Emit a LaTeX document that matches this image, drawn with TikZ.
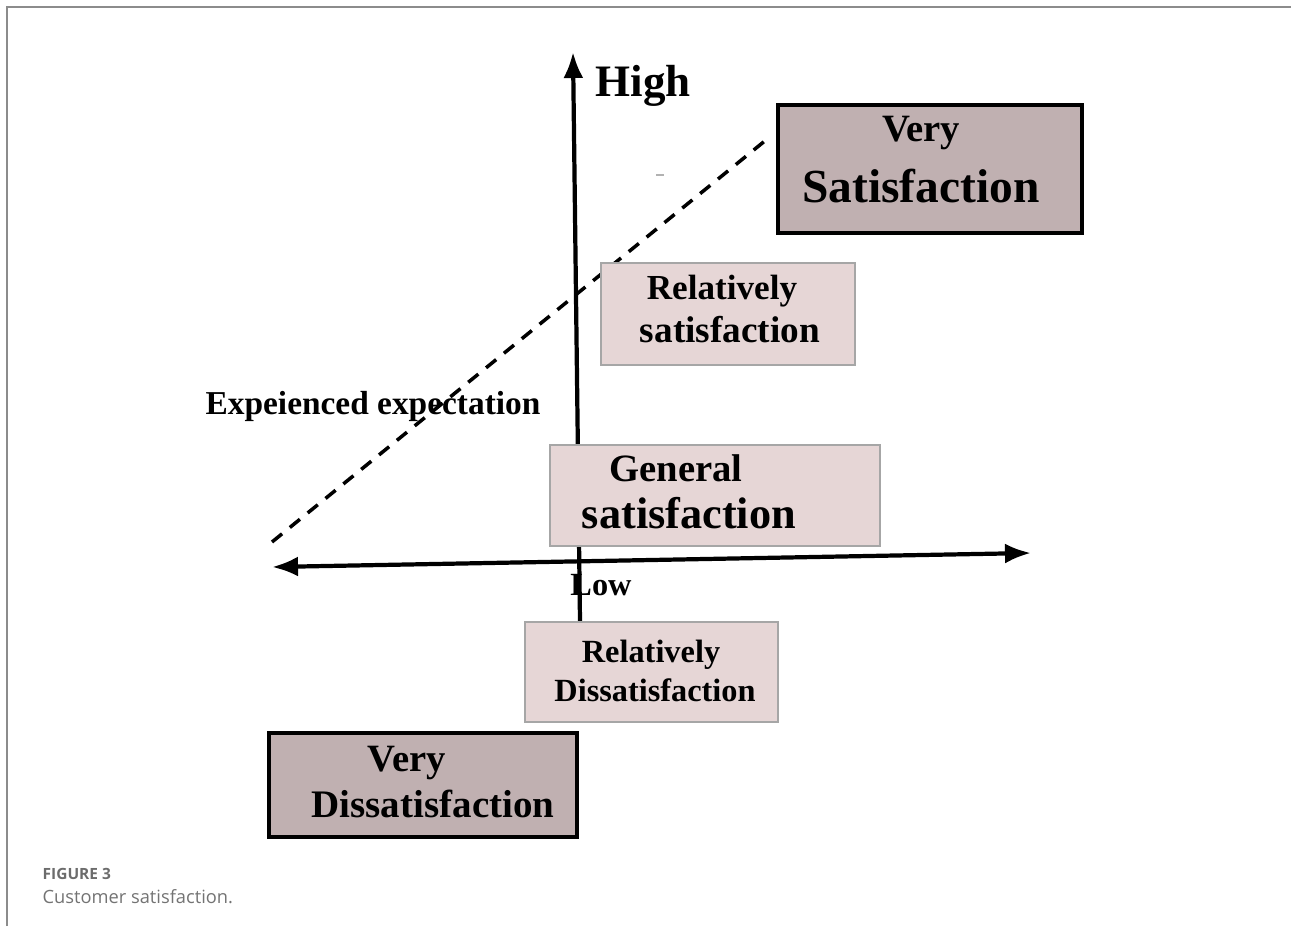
\documentclass[tikz,border=0pt]{standalone}
\usepackage{fontspec}
\setmainfont{Liberation Serif}
\newfontfamily\captionfont{Open Sans}
\usetikzlibrary{arrows.meta}

\begin{document}
\begin{tikzpicture}
	
	% Define the box and word styles
	\tikzset{
		soft box/.style 2 args={draw=gray!70, fill=boxlight, line width=0.5pt,
			minimum width=#1cm, minimum height=#2cm, inner sep=0pt},
		hard box/.style 2 args={draw=black, fill=boxdark, line width=1.3pt,
			minimum width=#1cm, minimum height=#2cm, inner sep=0pt},
		word/.style={font=\bfseries\fontsize{#1}{#1}\selectfont, inner sep=0pt},
		axis/.style={line width=1.2pt, draw=black}
	}
	\definecolor{boxlight}{RGB}{230,214,214}
	\definecolor{boxdark}{RGB}{192,176,177}
	\definecolor{framegray}{RGB}{140,140,140}
	
	\useasboundingbox (0,0) rectangle (12.91,9.26);
	
	% Frame of the figure
	\draw[framegray, line width=0.6pt] (0.07,0) -- (0.07,9.19) -- (12.91,9.19);
	
	% Axes
	\coordinate (ybot) at (5.80,3.04);
	\coordinate (ytop) at (5.73,8.74);
	\coordinate (xleft) at (2.72,3.59);
	\coordinate (xright) at (10.31,3.73);
	\draw[axis, -{Latex[length=2.6mm,width=2mm]}] (ybot) -- (ytop);
	\draw[axis, {Latex[length=2.6mm,width=2mm]}-{Latex[length=2.6mm,width=2mm]}] (xleft) -- (xright);
	
	% Expectation line (dashed)
	\coordinate (dstart) at (2.72,3.84);
	\coordinate (dend) at (7.66,7.86);
	\draw[line width=1pt, dash pattern=on 1.3mm off 1mm] (dstart) -- (dend);
	\draw[gray!60, line width=0.5pt] (6.56,7.51) -- (6.64,7.51);
	
	% Boxes
	\node[hard box={3.04}{1.28}] (verysat) at (9.30,7.57) {};
	\node[soft box={2.54}{1.02}] (relsat) at (7.28,6.12) {};
	\node[soft box={3.30}{1.01}] (gensat) at (7.15,4.305) {};
	\node[soft box={2.53}{1.00}] (reldis) at (6.515,2.54) {};
	\node[hard box={3.08}{1.04}] (verydis) at (4.23,1.41) {};
	
	% Words in the boxes
	\node[word=11] (verysatA) at (9.21,7.93) {Very};
	\node[word=13.5] (verysatB) at (9.21,7.40) {Satisfaction};
	\node[word=10] (relsatA) at (7.22,6.35) {Relatively};
	\node[word=10.6] (relsatB) at (7.30,5.96) {satisfaction};
	\node[word=11] (gensatA) at (6.76,4.58) {General};
	\node[word=12.6] (gensatB) at (6.89,4.13) {satisfaction};
	\node[word=9.2] (reldisA) at (6.51,2.71) {Relatively};
	\node[word=9.2] (reldisB) at (6.55,2.36) {Dissatisfaction};
	\node[word=11] (verydisA) at (4.07,1.63) {Very};
	\node[word=11.1] (verydisB) at (4.33,1.22) {Dissatisfaction};
	
	% Axis labels
	\node[word=12.8] (high) at (6.43,8.40) {High};
	\node[word=9.2] (low) at (6.01,3.41) {Low};
	\node[word=9.5] (expect) at (3.73,5.20) {Expeienced expectation};
	
	% Caption
	\node[anchor=west, inner sep=0pt, text=gray!85!black, font=\captionfont\fontsize{4.4}{5}\selectfont\bfseries] (figno) at (0.42,0.52) {FIGURE 3};
	\node[anchor=west, inner sep=0pt, text=gray!90!black, font=\captionfont\fontsize{5.2}{6}\selectfont] (figcap) at (0.42,0.29) {Customer satisfaction.};
	
\end{tikzpicture}
\end{document}
